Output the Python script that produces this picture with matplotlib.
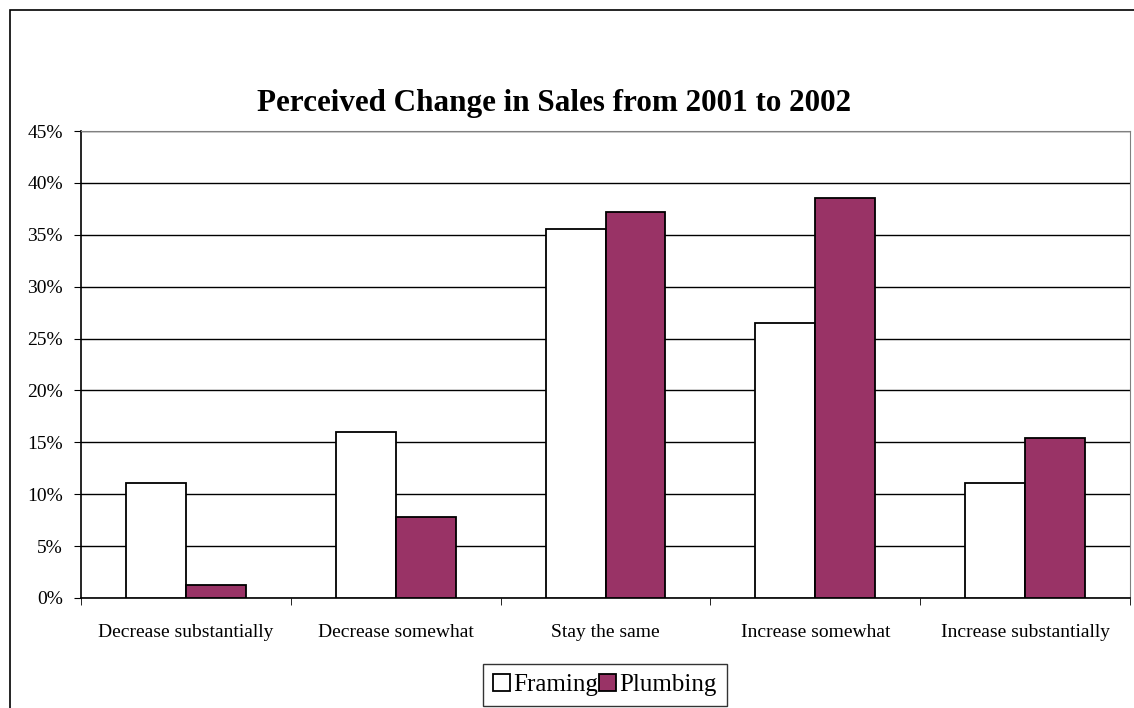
import numpy as np
import matplotlib
matplotlib.use("Agg")
import matplotlib.pyplot as plt
from matplotlib.patches import Rectangle
from matplotlib.ticker import PercentFormatter

categories = ["Decrease substantially", "Decrease somewhat", "Stay the same",
              "Increase somewhat", "Increase substantially"]
framing = [11.1, 16.0, 35.6, 26.5, 11.1]
plumbing = [1.3, 7.8, 37.2, 38.5, 15.4]

plt.rcParams['font.family'] = ['Liberation Serif', 'DejaVu Serif']

fig = plt.figure(figsize=(11.34, 7.08), dpi=100)
ax = fig.add_axes([81 / 1134, 1 - 598 / 708, (1130 - 81) / 1134, (598 - 131) / 708])

# outer chart border
fig.patches.append(Rectangle((10 / 1134, -0.01), 1.1, 1 - 10 / 708 + 0.01,
                             transform=fig.transFigure, fill=False,
                             edgecolor="black", linewidth=1.2))

x = np.arange(len(categories))
w = 1 / 3.5
ax.bar(x - w / 2, framing, w, color="white", edgecolor="black", linewidth=1.3,
       label="Framing", zorder=3)
ax.bar(x + w / 2, plumbing, w, color="#993366", edgecolor="black", linewidth=1.3,
       label="Plumbing", zorder=3)

ax.set_xlim(-0.5, len(categories) - 0.5)
ax.set_ylim(0, 45)
ax.set_yticks(np.arange(0, 46, 5))
ax.yaxis.set_major_formatter(PercentFormatter(decimals=0))
ax.yaxis.grid(True, color="black", linewidth=1, zorder=0)
ax.set_axisbelow(True)

ax.set_xticks(x)
ax.set_xticklabels(categories, fontsize=14)
ax.tick_params(axis="x", length=0, pad=19)
ax.set_xticks(np.arange(-0.5, len(categories)), minor=True)
ax.tick_params(axis="x", which="minor", length=5, direction="out", color="black")
ax.tick_params(axis="y", length=5, direction="out", labelsize=14, pad=8)

for s in ["top", "right"]:
    ax.spines[s].set_color("gray")
for s in ["left", "bottom"]:
    ax.spines[s].set_color("black")
    ax.spines[s].set_linewidth(1.2)

fig.text(554 / 1134, 1 - 104 / 708, "Perceived Change in Sales from 2001 to 2002",
         ha="center", va="center", fontsize=22.4, fontweight="bold")

leg = fig.legend(loc="center", bbox_to_anchor=(605 / 1134, 1 - 685 / 708), ncol=2,
                 fontsize=18, frameon=True, fancybox=False, edgecolor="black",
                 handlelength=0.65, handleheight=0.65, handletextpad=0.15,
                 columnspacing=0.05, borderpad=0.4, borderaxespad=0)
leg.get_frame().set_linewidth(1.0)

fig.savefig("out.png", dpi=100)
